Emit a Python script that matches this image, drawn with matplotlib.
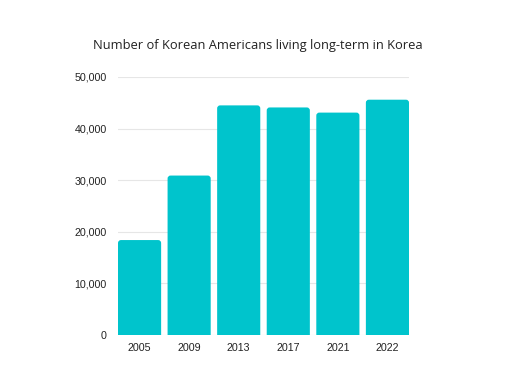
import matplotlib
matplotlib.use("Agg")
import matplotlib.pyplot as plt
from matplotlib.patches import FancyBboxPatch
from matplotlib.ticker import FuncFormatter

years = ["2005", "2009", "2013", "2017", "2021", "2022"]
values = [18400, 30900, 44500, 44100, 43100, 45600]
yticks = [0, 10000, 20000, 30000, 40000, 50000]

bar_color = "#00C4CC"
w = 0.87

fig = plt.figure(figsize=(5.11, 3.77), dpi=100)
ax = fig.add_axes([118/511, 1-335/377, 291/511, (335-77)/377])

xs = list(range(len(years)))
bars = ax.bar(xs, values, width=w, color=bar_color, zorder=3)
ax.set_xlim(-w/2, len(years)-1 + w/2)
ax.set_ylim(0, 50000)

# replace with rounded-top bars
px_x = 291 / (len(years) - 1 + w)
px_y = 258 / 50000
r_px = 3.0
rx = r_px / px_x
ry = r_px / px_y
ext = 2000
for b in bars:
    b.set_visible(False)
    p = FancyBboxPatch((b.get_x(), -ext), b.get_width(), b.get_height() + ext,
                       boxstyle=f"round,pad=0,rounding_size={rx}",
                       mutation_aspect=ry / rx, facecolor=bar_color,
                       edgecolor="none", zorder=3)
    ax.add_patch(p)

ax.set_xticks(xs)
ax.set_xticklabels(years)
ax.set_yticks(yticks)
ax.yaxis.set_major_formatter(FuncFormatter(lambda v, p: f"{int(v):,}"))
for s in ax.spines.values():
    s.set_visible(False)
ax.grid(axis="y", color="#e6e6e6", linewidth=0.8, zorder=0)
ax.tick_params(axis="both", length=0, labelsize=7.7, labelcolor="#222222")
ax.tick_params(axis="y", pad=8)
ax.tick_params(axis="x", pad=6)
for lab in ax.get_xticklabels() + ax.get_yticklabels():
    lab.set_family("Liberation Sans")

fig.text(257.5/511, 1-45/377, "Number of Korean Americans living long-term in Korea",
         ha="center", va="center", fontsize=9.3, color="#222222", family="Open Sans")

fig.savefig("out.png", dpi=100, facecolor="white")
